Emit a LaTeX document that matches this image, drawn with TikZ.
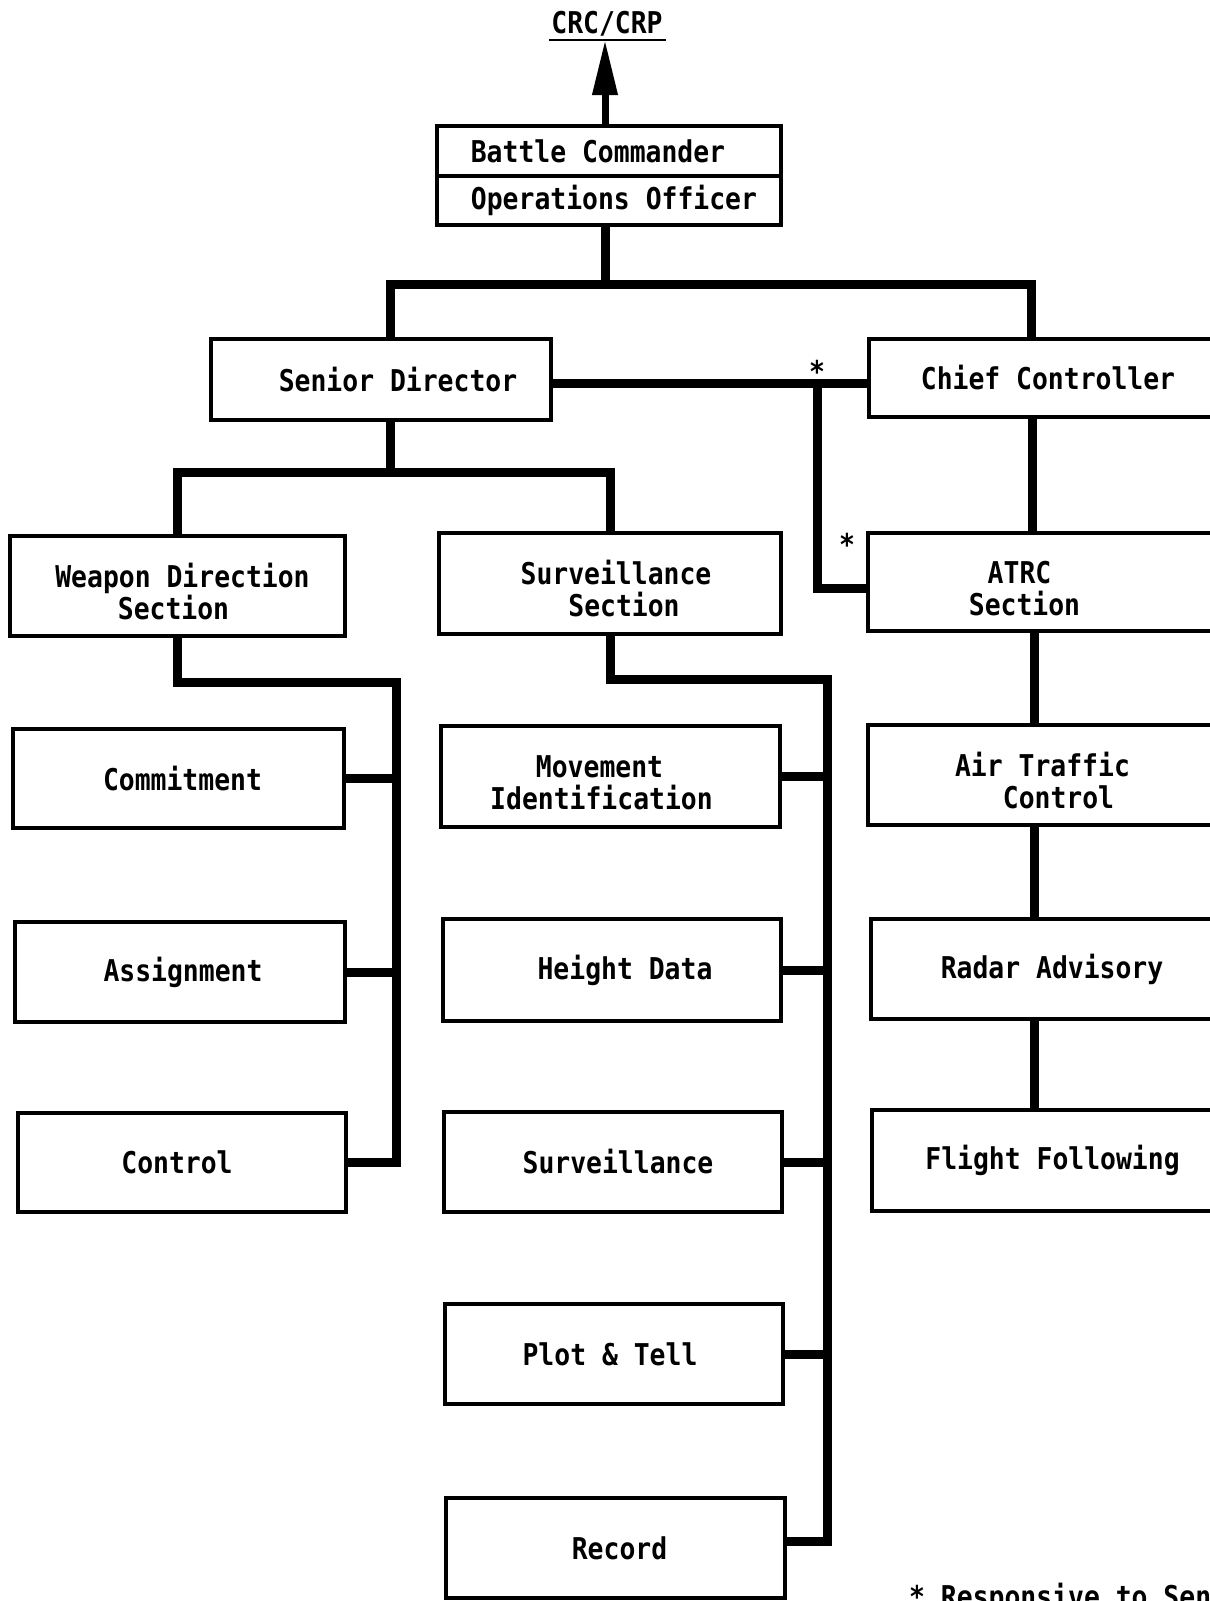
\documentclass[tikz,border=0pt]{standalone}
\usepackage{fontspec}
\newfontfamily\tw[FakeStretch=0.88]{DejaVu Sans Mono}
\newcommand\lowr{\rule{0pt}{35pt}}
\usetikzlibrary{arrows.meta}
\begin{document}
\begin{tikzpicture}[x=1pt,y=-1pt,
  txt/.style={font=\tw\bfseries\fontsize{30pt}{32pt}\selectfont},
  box/.style={txt,draw,line width=4.5pt,rectangle,inner sep=0pt,align=center},
  lbl/.style={txt,inner sep=0pt},
  conn/.style={line width=9pt,line join=miter},
  uparrow/.style={line width=7pt,-{Triangle[width=24pt,length=55pt]}}]
\fill[white] (0,0) rectangle (1210,1601);
\useasboundingbox (0,0) rectangle (1210,1601);

% top
\coordinate (ulL) at (549,40);
\coordinate (ulR) at (666,40);
\coordinate (tip) at (605,40);
\node[lbl,anchor=base] (crc) at (607,33) {CRC/CRP};
\draw[line width=2.5pt] (ulL) -- (ulR);

\node[box,minimum width=344pt,minimum height=50pt] (bc) at (609,151) {\hspace*{-22pt}Battle Commander};
\node[box,minimum width=344pt,minimum height=49pt] (oo) at (609,200.5) {\hspace*{10pt}Operations Officer};
\draw[uparrow] (bc.north -| tip) -- (tip);

% second level
\node[box,minimum width=340pt,minimum height=81pt] (sd) at (381,379.5) {\hspace*{34pt}Senior Director};
\node[box,minimum width=346pt,minimum height=78pt] (cc) at (1042,378) {\hspace*{12pt}Chief Controller};

% third level
\node[box,minimum width=335pt,minimum height=100pt] (wds) at (177.5,586) {\lowr\hspace*{10pt}Weapon Direction\\\hspace*{-8pt}Section};
\node[box,minimum width=342pt,minimum height=101pt] (ss) at (610,583.5) {\lowr\hspace*{12pt}Surveillance\\\hspace*{28pt}Section};
\node[box,minimum width=347pt,minimum height=98pt] (atrc) at (1041.5,582) {\lowr\hspace*{-44pt}ATRC\\\hspace*{-34pt}Section};

% weapon direction column
\node[box,minimum width=331pt,minimum height=99pt] (com) at (178.5,778.5) {\hspace*{8pt}Commitment};
\node[box,minimum width=330pt,minimum height=100pt] (asg) at (180,972) {\hspace*{6pt}Assignment};
\node[box,minimum width=328pt,minimum height=99pt] (ctl) at (182,1162.5) {\hspace*{-10pt}Control};

% surveillance column
\node[box,minimum width=339pt,minimum height=101pt] (mi) at (610.5,776.5) {\lowr\hspace*{-22pt}Movement\\\hspace*{-18pt}Identification};
\node[box,minimum width=338pt,minimum height=102pt] (hd) at (612,970) {\hspace*{26pt}Height Data};
\node[box,minimum width=338pt,minimum height=100pt] (sv) at (613,1162) {\hspace*{10pt}Surveillance};
\node[box,minimum width=338pt,minimum height=100pt] (pt) at (614,1354) {\hspace*{-8pt}Plot \& Tell};
\node[box,minimum width=339pt,minimum height=100pt] (rec) at (615.5,1548) {\hspace*{8pt}Record};

% ATRC column
\node[box,minimum width=347pt,minimum height=100pt] (atc) at (1041.5,775) {\lowr\hspace*{2pt}Air Traffic\\\hspace*{34pt}Control};
\node[box,minimum width=344pt,minimum height=100pt] (ra) at (1043,969) {\hspace*{18pt}Radar Advisory};
\node[box,minimum width=343pt,minimum height=101pt] (ff) at (1043.5,1160.5) {\hspace*{18pt}Flight Following};

% connectors: top tree
\coordinate (j) at (605,284);
\coordinate (b1) at (390,284);
\coordinate (b2) at (1031,284);
\draw[conn] (oo.south -| j) -- (j);
\draw[conn] (sd.north -| b1) -- (b1) -- (b2) -- (cc.north -| b2);

% senior director - chief controller, and ATRC
\coordinate (k) at (817,383);
\coordinate (k2) at (817,588);
\draw[conn] (sd.east |- k) -- (cc.west |- k);
\draw[conn] (k) -- (k2) -- (atrc.west |- k2);
\node[lbl,anchor=base] (s1) at (817,382) {*};
\node[lbl,anchor=base] (s2) at (847,555) {*};

% right column
\coordinate (xr) at (1032,0);
\coordinate (xr2) at (1034,0);
\draw[conn] (cc.south -| xr) -- (atrc.north -| xr);
\draw[conn] (atrc.south -| xr2) -- (atc.north -| xr2);
\draw[conn] (atc.south -| xr2) -- (ra.north -| xr2);
\draw[conn] (ra.south -| xr2) -- (ff.north -| xr2);

% senior director to sections
\coordinate (c1) at (390,472);
\draw[conn] (sd.south -| c1) -- (c1);
\draw[conn] (wds.north) |- (c1) -| (ss.north);

% weapon direction branches
\coordinate (d) at (396,682);
\draw[conn] (wds.south) |- (d) -- (d |- ctl.east) -- (ctl.east);
\draw[conn] (com.east) -- (com.east -| d);
\draw[conn] (asg.east) -- (asg.east -| d);

% surveillance branches
\coordinate (e) at (827,679);
\coordinate (e2) at (827,1541);
\draw[conn] (ss.south) |- (e) -- (e2) -- (rec.east |- e2);
\draw[conn] (mi.east) -- (mi.east -| e);
\draw[conn] (hd.east) -- (hd.east -| e);
\draw[conn] (sv.east) -- (sv.east -| e);
\draw[conn] (pt.east) -- (pt.east -| e);

% footnote
\node[lbl,anchor=base west] (note) at (909,1607) {* Responsive to Sen};
\end{tikzpicture}
\end{document}
